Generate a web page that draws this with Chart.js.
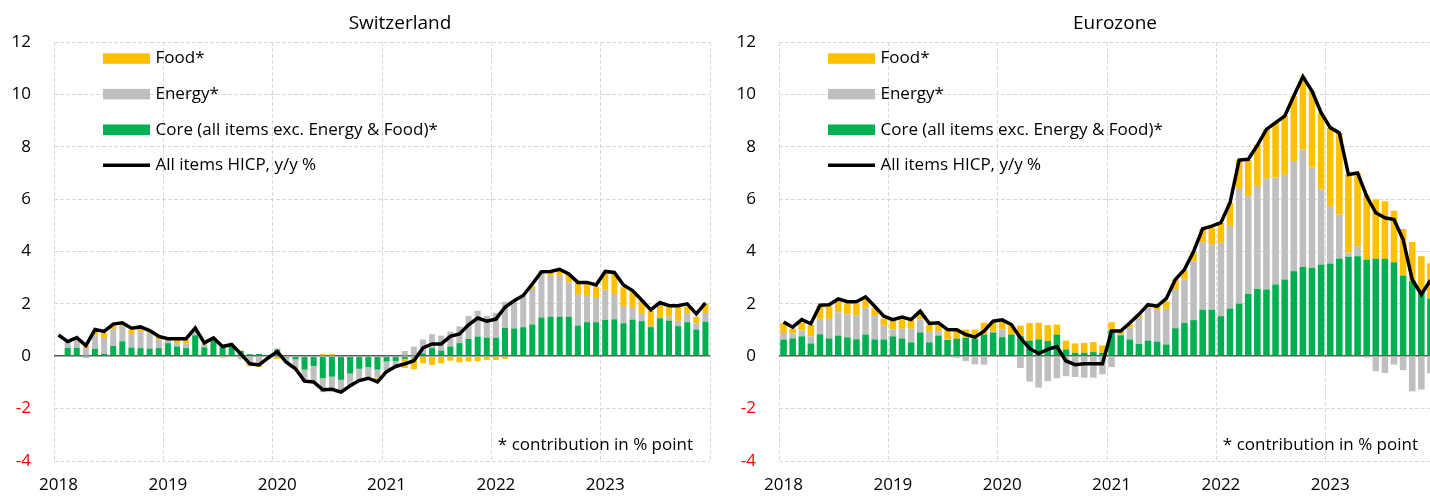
<!DOCTYPE html>
<html>
<head>
<meta charset="utf-8">
<script src="https://cdn.jsdelivr.net/npm/chart.js@4.4.0/dist/chart.umd.min.js"></script>
<style>
  body { margin: 0; background: #fff; overflow: hidden; }
  #wrap { position: relative; width: 1430px; height: 496px; overflow: hidden; }
  .panel { position: absolute; top: 0; width: 725px; height: 496px; }
</style>
</head>
<body>
<div id="wrap">
  <div class="panel" style="left:0"><canvas id="chart1" width="725" height="496"></canvas></div>
  <div class="panel" style="left:725px"><canvas id="chart2" width="725" height="496"></canvas></div>
</div>
<script>
const years = ['2018', '2019', '2020', '2021', '2022', '2023'];
const months = [];
years.forEach(y => { for (let m = 1; m <= 12; m++) months.push(y + '-' + String(m).padStart(2, '0')); });

const yTicks = [-4, -2, 0, 2, 4, 6, 8, 10, 12];

// Switzerland
const chFood = [null, 0.00, 0.05, 0.09, 0.13, 0.19, 0.13, 0.08, 0.15, 0.13, 0.08, 0.10,
  0.08, 0.14, 0.15, 0.05, 0.05, 0.05, -0.05, 0.02, 0.02, -0.09, -0.09, -0.03,
  -0.10, -0.03, -0.05, 0.00, 0.00, 0.08, 0.08, 0.00, 0.00, 0.00, 0.00, -0.15,
  -0.05, 0.00, -0.35, -0.45, -0.27, -0.33, -0.27, -0.17, -0.23, -0.20, -0.19, -0.14,
  -0.14, -0.10, 0.00, 0.02, 0.10, 0.10, 0.17, 0.23, 0.32, 0.47, 0.46, 0.43,
  0.67, 0.76, 0.73, 0.64, 0.51, 0.57, 0.50, 0.36, 0.55, 0.25, 0.25, 0.36];
const chEnergy = [null, 0.25, 0.28, 0.32, 0.51, 0.61, 0.64, 0.59, 0.52, 0.61, 0.59, 0.32,
  0.10, 0.13, 0.17, 0.15, 0.10, 0.05, 0.03, 0.04, -0.12, -0.29, -0.32, -0.08,
  0.05, -0.15, -0.30, -0.48, -0.62, -0.53, -0.53, -0.47, -0.50, -0.50, -0.38, -0.30,
  -0.35, -0.20, 0.20, 0.37, 0.53, 0.53, 0.57, 0.57, 0.64, 0.88, 0.99, 0.83,
  0.95, 1.00, 1.06, 1.21, 1.36, 1.67, 1.56, 1.56, 1.31, 1.18, 1.04, 0.93,
  1.15, 0.97, 0.65, 0.45, 0.28, 0.05, 0.05, 0.15, 0.20, 0.34, 0.24, 0.33];
const chCore = [null, 0.32, 0.32, -0.05, 0.28, 0.09, 0.39, 0.57, 0.33, 0.31, 0.29, 0.31,
  0.50, 0.37, 0.31, 0.80, 0.34, 0.60, 0.34, 0.37, 0.20, 0.08, 0.09, 0.05,
  0.25, -0.05, -0.12, -0.51, -0.37, -0.84, -0.78, -0.90, -0.66, -0.48, -0.42, -0.51,
  -0.20, -0.18, -0.10, -0.05, 0.11, 0.31, 0.22, 0.37, 0.50, 0.66, 0.75, 0.71,
  0.71, 1.08, 1.06, 1.11, 1.21, 1.48, 1.51, 1.51, 1.51, 1.17, 1.30, 1.30,
  1.39, 1.41, 1.26, 1.40, 1.34, 1.11, 1.45, 1.36, 1.15, 1.30, 1.02, 1.32];
const chAll = [0.81, 0.56, 0.71, 0.41, 1.02, 0.95, 1.23, 1.28, 1.07, 1.12, 0.98, 0.76,
  0.67, 0.67, 0.67, 1.08, 0.51, 0.70, 0.37, 0.45, 0.09, -0.29, -0.33, -0.06,
  0.18, -0.23, -0.48, -0.95, -0.98, -1.28, -1.26, -1.37, -1.13, -0.93, -0.84, -0.98,
  -0.59, -0.39, -0.29, -0.17, 0.32, 0.47, 0.47, 0.76, 0.85, 1.20, 1.46, 1.34,
  1.42, 1.87, 2.12, 2.32, 2.76, 3.23, 3.24, 3.32, 3.14, 2.82, 2.82, 2.72,
  3.24, 3.20, 2.72, 2.51, 2.15, 1.77, 2.05, 1.93, 1.93, 2.00, 1.62, 2.04];

// Eurozone
const ezFood = [0.38, 0.17, 0.30, 0.43, 0.48, 0.48, 0.42, 0.42, 0.44, 0.32, 0.32, 0.27,
  0.35, 0.36, 0.33, 0.32, 0.29, 0.25, 0.35, 0.38, 0.32, 0.35, 0.45, 0.40,
  0.33, 0.34, 0.40, 0.67, 0.64, 0.61, 0.38, 0.34, 0.36, 0.38, 0.38, 0.28,
  0.31, 0.10, 0.13, 0.13, 0.10, 0.25, 0.29, 0.38, 0.38, 0.34, 0.51, 0.64,
  0.76, 0.89, 1.10, 1.40, 1.62, 1.89, 2.10, 2.27, 2.48, 2.74, 2.93, 2.93,
  2.99, 3.12, 2.99, 2.80, 2.48, 2.27, 2.20, 1.97, 1.78, 1.49, 1.40, 1.35];
const ezEnergy = [0.25, 0.20, 0.22, 0.27, 0.59, 0.75, 0.89, 0.88, 0.91, 1.02, 0.89, 0.53,
  0.27, 0.37, 0.52, 0.50, 0.39, 0.17, 0.02, -0.06, -0.18, -0.31, -0.32, 0.03,
  0.30, 0.00, -0.45, -0.97, -1.20, -0.95, -0.84, -0.76, -0.79, -0.82, -0.82, -0.69,
  -0.41, 0.05, 0.45, 1.00, 1.25, 1.20, 1.36, 1.48, 1.66, 2.25, 2.57, 2.48,
  2.80, 3.15, 4.38, 3.73, 3.90, 4.23, 4.08, 4.00, 4.20, 4.48, 3.82, 2.87,
  2.19, 1.68, 0.15, 0.38, -0.05, -0.57, -0.64, -0.32, -0.53, -1.34, -1.27, -0.65];
const ezCore = [0.64, 0.68, 0.76, 0.49, 0.84, 0.68, 0.79, 0.72, 0.65, 0.83, 0.64, 0.64,
  0.76, 0.68, 0.53, 0.91, 0.53, 0.79, 0.62, 0.67, 0.70, 0.67, 0.83, 0.91,
  0.73, 0.83, 0.77, 0.60, 0.64, 0.58, 0.83, 0.26, 0.13, 0.13, 0.16, 0.13,
  0.99, 0.80, 0.64, 0.47, 0.60, 0.56, 0.45, 1.07, 1.27, 1.38, 1.78, 1.78,
  1.53, 1.82, 2.01, 2.38, 2.57, 2.55, 2.74, 2.93, 3.25, 3.41, 3.38, 3.50,
  3.54, 3.73, 3.80, 3.82, 3.69, 3.72, 3.72, 3.59, 3.08, 2.87, 2.42, 2.20];
const ezAll = [1.31, 1.11, 1.40, 1.24, 1.95, 1.97, 2.19, 2.08, 2.08, 2.27, 1.91, 1.53,
  1.40, 1.50, 1.40, 1.72, 1.25, 1.28, 1.02, 1.01, 0.83, 0.73, 0.96, 1.34,
  1.39, 1.21, 0.70, 0.30, 0.10, 0.26, 0.37, -0.18, -0.32, -0.29, -0.29, -0.29,
  0.96, 0.96, 1.27, 1.60, 1.97, 1.91, 2.20, 2.93, 3.31, 4.00, 4.87, 4.97,
  5.10, 5.86, 7.49, 7.52, 8.05, 8.66, 8.92, 9.17, 9.94, 10.68, 10.13, 9.30,
  8.73, 8.53, 6.94, 7.00, 6.11, 5.48, 5.29, 5.22, 4.46, 2.93, 2.36, 2.90];

Chart.defaults.font.family = '"Open Sans", sans-serif';
Chart.defaults.color = '#000';

const gridColor = '#d9d9d9';

// title, in-plot legend and footnote
const panelText = {
    id: 'panelText',
    afterDraw(chart, args, opts) {
        const ctx = chart.ctx;
        const a = chart.chartArea;
        ctx.save();
        ctx.fillStyle = '#000';
        ctx.textBaseline = 'middle';
        ctx.textAlign = 'center';
        ctx.font = '19px "Open Sans"';
        ctx.fillText(opts.title, a.left + opts.titleX, 24);

        ctx.font = '17px "Open Sans"';
        ctx.textAlign = 'left';
        const order = [3, 2, 1, 0];
        order.forEach((di, k) => {
            const ds = chart.data.datasets[di];
            const y = 58.5 + 35.6 * k;
            if (ds.type === 'line') {
                ctx.strokeStyle = ds.borderColor;
                ctx.lineWidth = 3.5;
                ctx.beginPath();
                ctx.moveTo(a.left + 49, y);
                ctx.lineTo(a.left + 96, y);
                ctx.stroke();
            } else {
                ctx.fillStyle = ds.backgroundColor;
                ctx.fillRect(a.left + 49, y - 5.2, 47, 10.5);
            }
            ctx.fillStyle = '#000';
            ctx.fillText(ds.label, a.left + 101.5, y);
        });

        ctx.textAlign = 'right';
        ctx.fillText('* contribution in % point', a.right - 17, 445);
        ctx.restore();
    }
};

function makeChart(id, title, titleX, core, energy, food, all, barPct) {
    const ctx = document.getElementById(id).getContext('2d');
    return new Chart(ctx, {
        data: {
            labels: months,
            datasets: [{
                type: 'line',
                label: 'All items HICP, y/y %',
                data: all,
                borderColor: '#000000',
                borderWidth: 3.5,
                pointRadius: 0,
                tension: 0,
                stack: 'total',
                order: 0
            }, {
                type: 'bar',
                label: 'Core (all items exc. Energy & Food)*',
                data: core,
                backgroundColor: '#00B050',
                barPercentage: barPct,
                categoryPercentage: 1,
                order: 1
            }, {
                type: 'bar',
                label: 'Energy*',
                data: energy,
                backgroundColor: '#BFBFBF',
                barPercentage: barPct,
                categoryPercentage: 1,
                order: 1
            }, {
                type: 'bar',
                label: 'Food*',
                data: food,
                backgroundColor: '#FFC000',
                barPercentage: barPct,
                categoryPercentage: 1,
                order: 1
            }]
        },
        options: {
            responsive: false,
            animation: false,
            layout: { padding: { top: 42, right: 15, left: 0, bottom: 0 } },
            plugins: {
                legend: { display: false },
                tooltip: { enabled: false },
                panelText: { title: title, titleX: titleX }
            },
            scales: {
                x: {
                    stacked: true,
                    offset: true,
                    afterFit: s => { s.height = 35; },
                    grid: {
                        offset: true,
                        drawTicks: false,
                        color: c => (c.index === undefined || c.index % 12 === 0) ? gridColor : 'rgba(0,0,0,0)',
                        lineWidth: 1
                    },
                    border: { display: false, dash: [4, 2] },
                    ticks: {
                        autoSkip: false,
                        maxRotation: 0,
                        padding: 14,
                        font: { size: 17 },
                        color: '#000',
                        callback: (v, i) => i % 12 === 0 ? years[i / 12] : ''
                    }
                },
                y: {
                    stacked: true,
                    min: -4,
                    max: 12,
                    afterFit: s => { s.width = 54; },
                    afterBuildTicks: s => { s.ticks = yTicks.map(v => ({ value: v })); },
                    grid: {
                        drawTicks: false,
                        color: c => c.tick && c.tick.value === 0 ? '#595959' : gridColor,
                        lineWidth: c => c.tick && c.tick.value === 0 ? 1.6 : 1
                    },
                    border: {
                        display: false,
                        dash: c => c.tick && c.tick.value === 0 ? [] : [4, 2]
                    },
                    ticks: {
                        padding: 23,
                        font: { size: 17 },
                        color: c => c.tick.value < 0 ? '#FF0000' : '#000000'
                    }
                }
            }
        },
        plugins: [panelText]
    });
}

let chart1 = makeChart('chart1', 'Switzerland', 346, chCore, chEnergy, chFood, chAll, 0.66);
let chart2 = makeChart('chart2', 'Eurozone', 336, ezCore, ezEnergy, ezFood, ezAll, 0.72);
</script>
</body>
</html>
